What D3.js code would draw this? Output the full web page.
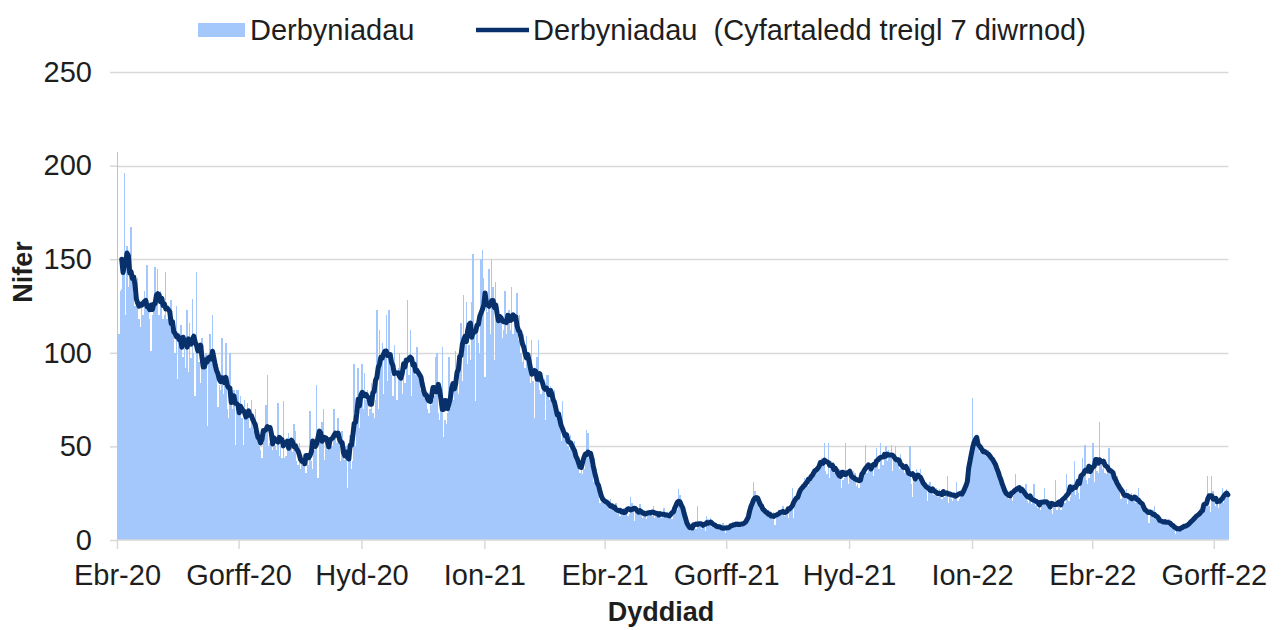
<!DOCTYPE html>
<html lang="cy">
<head>
<meta charset="utf-8">
<title>Derbyniadau</title>
<script type="text/javascript" src="https://cdn.jsdelivr.net/npm/d3@7"></script>
<style>
body { margin: 0; background: #fff; }
svg text { font-family: "Liberation Sans", Arial, sans-serif; fill: #1e1e1e; }
</style>
</head>
<body>
<script type="text/javascript">
var w = 1281;
var h = 630;

// daily admissions (from 1 Apr 2020)
var admissions2020 = [
  207,110,133,134,150,196,120, 157,135,148,167,140,131,125, 132,140,118,114,125,120,133,
  128,147,125,118,101,120,122, 146,130,145,120,133,125,118, 120,143,118,125,115,128,112,
  112,100,125,86,110,115,115, 98,105,92,123,90,116,97, 129,100,77,143,100,95,84,
  108,104,95,100,61,96,110, 100,120,98,92,90,71,83, 80,108,78,82,105,70,65,
  100,78,70,80,51,80,80, 72,77,65,51,75,70,73, 66,60,75,64,58,70,59,
  55,50,48,44,52,55,72, 88,50,52,55,48,56,50, 48,73,45,50,44,74,44,
  45,50,57,48,52,47,62, 58,42,40,52,38,42,46, 40,36,43,40,69,42,38,
  48,50,83,33,56,52,63, 70,43,52,48,55,50,50, 50,70,55,52,65,58,42,
  58,48,43,50,28,46,56, 38,42,94,50,64,92,60, 72,94,70,89,75,80,66,
  70,84,68,65,75,123,70, 112,95,105,78,100,120,85, 123,96,88,77,104,90,75,
  92,100,86,78,90,84,93, 128,88,112,77,96,90,88, 103,92,85,80,88,82,79,
  76,70,68,80,72,75,77, 98,100,68,64,72,103,55, 64,62,68,98,70,74,75,
  82,101,85,78,90,116,85, 131,105,127,94,104,96,127, 153,110,74,112,105,100,150,
  155,140
];
var admissions2021 = [
  87,125,122,145,110,
  150,135,96,138,122,118,120, 118,108,112,133,110,115,123, 112,135,110,116,114,132,107,
  120,100,95,110,92,109,95, 96,84,107,85,65,88,98, 107,80,78,85,86,64,88,
  88,75,82,76,70,80,75, 66,64,60,53,74,56,54, 55,50,48,56,52,50,53,
  44,40,38,36,42,35,38, 42,59,57,48,40,45,31, 44,38,30,25,20,24,22,
  23,21,18,20,16,22,17, 18,15,20,14,17,13,15, 15,17,14,16,13,14,23,
  20,16,10,18,17,15,19, 13,12,16,14,11,15,16, 16,13,18,12,15,14,13,
  15,12,13,17,12,14,13, 12,13,11,15,18,20,16, 27,24,22,18,14,8,7,
  6,7,5,8,6,7,6, 18,7,8,6,9,7,5, 13,11,8,12,7,9,7,
  8,7,6,8,5,9,6, 4,6,7,8,6,9,8, 9,7,10,8,9,7,9,
  8,9,10,11,13,16,18, 31,26,22,24,20,18,16, 19,14,15,13,16,12,14,
  12,15,8,14,13,16,15, 15,18,13,14,16,12,16, 18,28,12,20,22,25,24,
  26,30,27,33,28,31,29, 33,35,38,34,37,36,39, 40,38,44,41,52,37,35,
  52,33,42,39,41,36,37, 36,38,34,28,32,33,52, 36,30,34,35,33,37,36,
  29,30,28,33,31,35,38, 51,36,38,40,37,41,34, 40,49,42,38,52,44,40,
  44,50,42,48,46,51,37, 44,50,41,43,38,46,39, 40,36,38,35,37,50,30,
  23,36,34,38,32,35,38, 30,29,32,27,21,30,31, 26,27,24,25,28,23,27,
  24,22,26,23,25,34,20, 26,22,21,23,24,31,21, 22,24,25,26,26,28,30,
  33,36,40
];
var admissions2022 = [
  76,52,55,54,
  52,47,48,50,46,49,45, 45,48,44,46,43,42,38, 40,38,36,32,30,26,25,
  24,25,22,23,26,21,24, 35,26,28,27,29,25,26, 24,30,21,20,22,19,23,
  30,18,19,17,20,16,19, 22,28,19,18,20,17,16, 14,20,32,16,18,17,16,
  21,23,20,35,22,21,23, 26,30,42,24,27,25,22, 36,44,34,51,32,30,33,
  38,40,52,31,42,37,36, 63,40,38,44,36,35,38, 49,36,34,33,35,31,34,
  30,28,22,25,26,24,27, 19,23,22,25,21,24,20, 21,28,19,18,20,17,16,
  17,16,9,15,14,16,18, 12,11,10,9,12,10,9, 10,9,8,11,9,10,8,
  7,3,6,5,7,6,8, 6,7,8,9,7,9,10, 11,12,13,14,12,15,14,
  15,16,20,18,34,18,15, 34,26,20,18,22,17,19, 21,28,20,24,27,26
];

var yTicks = [0, 50, 100, 150, 200, 250];
var xTickDates = [
  [2020, 3], [2020, 6], [2020, 9], [2021, 0], [2021, 3],
  [2021, 6], [2021, 9], [2022, 0], [2022, 3], [2022, 6]
];
var xTickLabels = ["Ebr-20", "Gorff-20", "Hyd-20", "Ion-21", "Ebr-21",
  "Gorff-21", "Hyd-21", "Ion-22", "Ebr-22", "Gorff-22"];
var seriesNames = ["Derbyniadau", "Derbyniadau  (Cyfartaledd treigl 7 diwrnod)"];

var startDate = new Date(Date.UTC(2020, 3, 1));
var values = admissions2020.concat(admissions2021, admissions2022);
var dataset = values.map(function (v, i) {
  return { date: d3.utcDay.offset(startDate, i), value: v };
});

// centred 7 day mean (shorter window at the last days)
var rolling = [];
for (var i = 3; i < dataset.length; i++) {
  var win = values.slice(i - 3, Math.min(values.length, i + 4));
  rolling.push({ date: dataset[i].date, value: d3.mean(win) });
}

var endDate = d3.utcDay.offset(startDate, dataset.length);

var xScale = d3.scaleUtc()
  .domain([startDate, endDate])
  .range([117, 1228.5]);
var yScale = d3.scaleLinear()
  .domain([0, 250])
  .range([540, 72]);

var svg = d3.select("body")
  .append("svg")
  .attr("width", w)
  .attr("height", h);

// gridlines
svg.append("g")
  .selectAll("line")
  .data(yTicks.slice(1))
  .enter()
  .append("line")
  .attr("x1", 117)
  .attr("x2", 1228.5)
  .attr("y1", function (d) { return Math.round(yScale(d)) + 0.5; })
  .attr("y2", function (d) { return Math.round(yScale(d)) + 0.5; })
  .attr("stroke", "#d9d9d9")
  .attr("stroke-width", 1.5);

// daily bars
svg.append("g")
  .attr("shape-rendering", "crispEdges")
  .selectAll("rect")
  .data(dataset)
  .enter()
  .append("rect")
  .attr("x", function (d) { return xScale(d.date); })
  .attr("width", function (d) { return xScale(d3.utcDay.offset(d.date, 1)) - xScale(d.date); })
  .attr("y", function (d) { return yScale(d.value); })
  .attr("height", function (d) { return yScale(0) - yScale(d.value); })
  .attr("fill", "#a4c8fb");

// x axis
var xAxis = d3.axisBottom(xScale)
  .tickValues(xTickDates.map(function (d) { return new Date(Date.UTC(d[0], d[1], 1)); }))
  .tickSize(9)
  .tickPadding(15)
  .tickFormat(function (d, i) { return xTickLabels[i]; });

var gx = svg.append("g")
  .attr("transform", "translate(0,540)")
  .call(xAxis);
gx.select(".domain").attr("stroke", "#d9d9d9").attr("stroke-width", 1.5)
  .attr("d", "M117,0H1228.5");
gx.selectAll(".tick line").attr("stroke", "#d9d9d9").attr("stroke-width", 1.5);
gx.selectAll(".tick text")
  .attr("font-size", "29px")
  .attr("font-family", null)
  .attr("fill", "#1e1e1e");

// y axis
var yAxis = d3.axisLeft(yScale)
  .tickValues(yTicks)
  .tickSize(7)
  .tickPadding(18);
var gy = svg.append("g")
  .attr("transform", "translate(117,0)")
  .call(yAxis);
gy.select(".domain").remove();
gy.selectAll(".tick line").attr("stroke", "#d9d9d9").attr("stroke-width", 1.5);
gy.selectAll(".tick text")
  .attr("font-size", "29px")
  .attr("font-family", null)
  .attr("fill", "#1e1e1e");

// rolling average
var line = d3.line()
  .x(function (d) { return xScale(d.date) + 0.7; })
  .y(function (d) { return yScale(d.value); });

svg.append("path")
  .datum(rolling)
  .attr("d", line)
  .attr("fill", "none")
  .attr("stroke", "#08306b")
  .attr("stroke-width", 5)
  .attr("stroke-linejoin", "round")
  .attr("stroke-linecap", "round");

// axis titles
svg.append("text")
  .attr("x", 661)
  .attr("y", 621)
  .attr("text-anchor", "middle")
  .attr("font-size", "27px")
  .attr("font-weight", "bold")
  .text("Dyddiad");

svg.append("text")
  .attr("transform", "translate(32,272) rotate(-90)")
  .attr("text-anchor", "middle")
  .attr("font-size", "27px")
  .attr("font-weight", "bold")
  .text("Nifer");

// legend
svg.append("rect")
  .attr("x", 198)
  .attr("y", 23)
  .attr("width", 47)
  .attr("height", 14)
  .attr("fill", "#a4c8fb");
svg.append("text")
  .attr("x", 250)
  .attr("y", 40)
  .attr("font-size", "29px")
  .text(seriesNames[0]);

svg.append("line")
  .attr("x1", 476)
  .attr("x2", 529)
  .attr("y1", 30)
  .attr("y2", 30)
  .attr("stroke", "#08306b")
  .attr("stroke-width", 4.5);
svg.append("text")
  .attr("x", 533)
  .attr("y", 40)
  .attr("font-size", "29px")
  .attr("xml:space", "preserve")
  .style("white-space", "pre")
  .text(seriesNames[1]);
</script>
</body>
</html>
